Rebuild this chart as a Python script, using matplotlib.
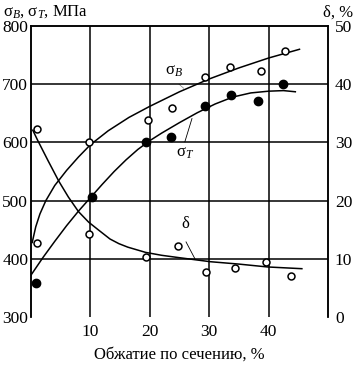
import matplotlib
matplotlib.use("Agg")
import matplotlib.pyplot as plt

plt.rcParams['font.family'] = ['Liberation Serif', 'DejaVu Serif']
plt.rcParams['mathtext.fontset'] = 'custom'
plt.rcParams['mathtext.rm'] = 'Liberation Serif'
plt.rcParams['mathtext.it'] = 'Liberation Serif:italic'

# --- measured points ---
sb_x = [1.0, 9.7, 19.7, 23.8, 29.3, 33.5, 38.7, 42.8]
sb_y = [428, 600, 639, 659, 712, 730, 722, 757]

st_x = [0.8, 10.2, 19.3, 23.6, 29.3, 33.7, 38.2, 42.5]
st_y = [358, 506, 600, 610, 663, 681, 671, 700]

d_x = [1.0, 9.7, 19.3, 24.7, 29.5, 34.3, 39.5, 43.7]
d_y = [32.3, 14.3, 10.3, 12.2, 7.8, 8.4, 9.5, 7.1]

# --- fitted curves ---
sb_cx = [0.2, 0.8, 1.5, 2.5, 4.0, 6.0, 8.0, 10.0, 13.0, 16.5, 20.0, 25.0, 30.0, 35.0, 40.0, 45.2]
sb_cy = [428, 455, 477, 500, 526, 552, 575, 596, 620, 643, 662, 687, 709, 728, 745, 760]

st_cx = [0.0, 2.0, 4.0, 6.0, 8.0, 10.0, 12.0, 14.0, 16.0, 18.0, 20.0, 22.0, 25.0, 28.0, 31.0, 34.0, 37.0, 40.0, 42.5, 44.5]
st_cy = [372, 402, 430, 457, 482, 505, 528, 550, 570, 588, 603, 616, 634, 651, 666, 678, 685, 688, 689, 687]

d_cx = [0.3, 1.1, 2.9, 4.7, 6.3, 8.0, 9.7, 11.3, 13.3, 14.8, 16.3, 19.3, 22.0, 24.9, 30.2, 34.9, 39.8, 45.6]
d_cy = [32.1, 30.4, 26.8, 23.3, 20.6, 18.1, 16.3, 15.0, 13.4, 12.6, 12.0, 11.1, 10.6, 10.2, 9.5, 9.1, 8.6, 8.3]

x_ticks = [10, 20, 30, 40]
left_ticks = [300, 400, 500, 600, 700, 800]
right_ticks = [0, 10, 20, 30, 40, 50]

fig = plt.figure(figsize=(3.55, 3.65), dpi=100)
ax = fig.add_axes([31/355, 1-317/365, (328-31)/355, (317-26)/365])
ax.set_xlim(0, 50)
ax.set_ylim(300, 800)
ax2 = ax.twinx()
ax2.set_ylim(0, 50)

lw = 1.1
for v in x_ticks:
    ax.axvline(v, color='black', lw=lw, zorder=1)
for v in left_ticks[1:-1]:
    ax.axhline(v, color='black', lw=lw, zorder=1)

ax.plot(sb_cx, sb_cy, color='black', lw=lw, zorder=2, solid_joinstyle='round')
ax.plot(st_cx, st_cy, color='black', lw=lw, zorder=2, solid_joinstyle='round')
ax2.plot(d_cx, d_cy, color='black', lw=lw, zorder=2, solid_joinstyle='round')

ax.plot(sb_x, sb_y, 'o', ms=5, mfc='white', mec='black', mew=1.1, zorder=3, clip_on=False)
ax.plot(st_x, st_y, 'o', ms=6, mfc='black', mec='black', zorder=3, clip_on=False)
ax2.plot(d_x, d_y, 'o', ms=5, mfc='white', mec='black', mew=1.1, zorder=3, clip_on=False)

fs = 12
# curve labels with leaders
ax.text(24.1, 723, r'$\mathrm{\sigma}_{\mathit{B}}$', fontsize=fs, ha='center', va='center')
ax.plot([24.9, 25.7], [700, 693], color='black', lw=0.5, ls=(0, (1, 1)))
ax.text(26.0, 582, r'$\mathrm{\sigma}_{\mathit{T}}$', fontsize=fs, ha='center', va='center')
ax.plot([25.9, 27.1], [601, 641], color='black', lw=0.6)
ax2.text(25.9, 16.0, 'δ', fontsize=fs, ha='center', va='center')
ax2.plot([26.1, 27.6], [12.9, 10.0], color='black', lw=0.6)

for a in (ax, ax2):
    a.spines['bottom'].set_visible(False)
    a.spines['left'].set_linewidth(lw)
    a.spines['right'].set_linewidth(lw)
    a.spines['top'].set_linewidth(lw)
    a.tick_params(length=0, labelsize=12.5)

ax.set_xticks(x_ticks)
ax.set_yticks(left_ticks)
ax2.set_yticks(right_ticks)
ax.tick_params(axis='x', pad=5)
ax.tick_params(axis='y', pad=2)
ax2.tick_params(axis='y', pad=5)

ax.set_xlabel('Обжатие по сечению, %', fontsize=12, labelpad=5)
fig.text(3/355, 1-12/365, r'$\mathrm{\sigma}_{\mathit{B}}$, $\mathrm{\sigma}_{\mathit{T}}$, МПа',
         fontsize=12, ha='left', va='center')
fig.text(353/355, 1-13/365, 'δ, %', fontsize=12, ha='right', va='center')

fig.savefig('out.png', dpi=100)
